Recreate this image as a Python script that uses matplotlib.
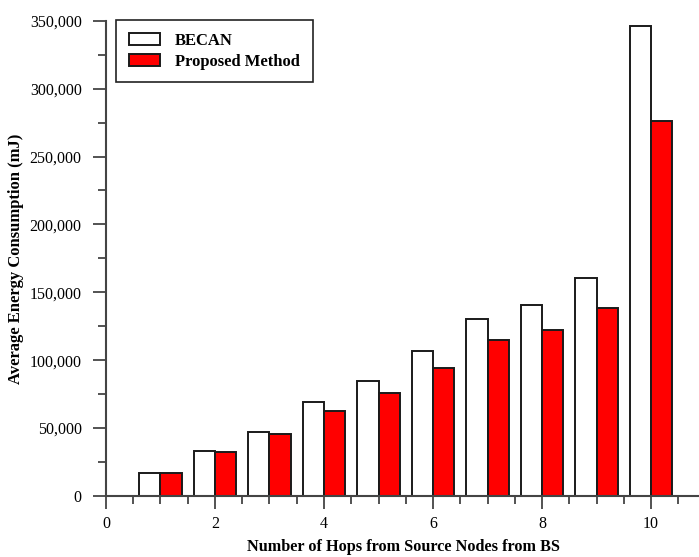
import numpy as np
import matplotlib
matplotlib.use("Agg")
import matplotlib.pyplot as plt
from matplotlib.ticker import MultipleLocator, FuncFormatter

# data
hops = np.array([1, 2, 3, 4, 5, 6, 7, 8, 9, 10])
becan = [16700, 33100, 46800, 69100, 85000, 106900, 130600, 141000, 160300, 345900]
proposed = [16700, 32100, 45600, 62300, 75700, 94100, 115000, 122300, 138500, 276000]

plt.rcParams['font.family'] = ['Liberation Serif', 'DejaVu Serif']

fig = plt.figure(figsize=(6.99, 5.57), dpi=100)
ax = fig.add_axes([0.1516, 0.1095, 0.85, 0.8533])

w = 0.39
edge = '#1a1a1a'
ax.bar(hops - w/2, becan, width=w, color='white', edgecolor=edge, linewidth=1.4, label='BECAN')
ax.bar(hops + w/2, proposed, width=w, color='#ff0000', edgecolor=edge, linewidth=1.4, label='Proposed Method')

ax.set_xlim(0, 10.9)
ax.set_ylim(0, 350000)

ax.xaxis.set_major_locator(MultipleLocator(2))
ax.xaxis.set_minor_locator(MultipleLocator(0.5))
ax.yaxis.set_major_locator(MultipleLocator(50000))
ax.yaxis.set_minor_locator(MultipleLocator(25000))
ax.yaxis.set_major_formatter(FuncFormatter(lambda v, p: f'{int(v):,}'))

spine_c = '#444444'
for s in ['top', 'right']:
    ax.spines[s].set_visible(False)
for s in ['left', 'bottom']:
    ax.spines[s].set_color(spine_c)
    ax.spines[s].set_linewidth(1.5)

ax.tick_params(axis='both', which='major', length=9.5, width=1.3, color=spine_c, labelsize=11.5)
ax.tick_params(axis='both', which='minor', length=5.5, width=1.3, color=spine_c)
ax.tick_params(axis='x', which='major', pad=5)
ax.tick_params(axis='y', which='major', pad=8)

ax.set_xlabel('Number of Hops from Source Nodes from BS', fontsize=11.7, fontweight='bold', labelpad=5)
ax.set_ylabel('Average Energy Consumption (mJ)', fontsize=12, fontweight='bold', labelpad=4)

leg = fig.legend(loc='upper left', bbox_to_anchor=(116/699, 1 - 20/557), borderaxespad=0,
                 fancybox=False, edgecolor='#222222', framealpha=1,
                 prop={'weight': 'bold', 'size': 12}, handlelength=1.9, handleheight=0.8,
                 borderpad=0.75, labelspacing=0.3, handletextpad=0.9)
leg.get_frame().set_linewidth(1.2)

fig.savefig('out.png', dpi=100)
